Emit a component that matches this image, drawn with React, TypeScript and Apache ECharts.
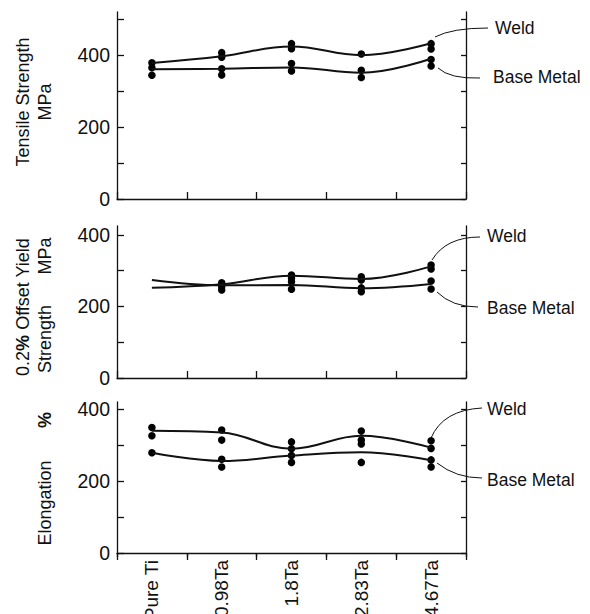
import React, { useEffect, useRef } from "react";
import * as echarts from "echarts";

const categories = ["Pure Ti", "0.98Ta", "1.8Ta", "2.83Ta", "4.67Ta"];

const tensileWeld = [378, 397, 424, 400, 433];
const tensileBase = [361, 362, 366, 351, 390];
const tensileDots = [
  [379, 365, 344],
  [407, 394, 362, 345],
  [432, 418, 377, 356],
  [403, 358, 338],
  [432, 417, 388, 370],
];

const yieldWeld = [252, 262, 286, 277, 312];
const yieldBase = [274, 259, 260, 251, 263];
const yieldDots = [
  [],
  [266, 255, 246],
  [288, 279, 269, 248],
  [283, 274, 252, 241],
  [316, 305, 271, 249],
];

const elongWeld = [340, 335, 290, 326, 293];
const elongBase = [279, 256, 271, 280, 258];
const elongDots = [
  [349, 326, 279],
  [342, 314, 261, 239],
  [309, 290, 271, 252],
  [339, 314, 303, 252],
  [312, 291, 259, 239],
];

const tickValuesTop = [0, 100, 200, 300, 400, 500];
const tickValuesLow = [0, 100, 200, 300, 400];
const labelValues = [0, 200, 400];

const FONT = "'Liberation Sans', Arial, Helvetica, sans-serif";
const INK = "#111";

function dotsToPoints(dots: number[][]) {
  const pts: number[][] = [];
  dots.forEach((list, i) => list.forEach((v) => pts.push([i, v])));
  return pts;
}

export default function App() {
  const ref = useRef<HTMLDivElement>(null);
  useEffect(() => {
    if (!ref.current) return;
    const chart = echarts.init(ref.current, undefined, { renderer: "svg" });

    const grids = [
      { left: 117, width: 349, top: 12, height: 187, max: 520, ticks: tickValuesTop },
      { left: 117, width: 349, top: 226, height: 152, max: 425, ticks: tickValuesLow },
      { left: 117, width: 349, top: 402, height: 151, max: 420, ticks: tickValuesLow },
    ];

    const xAxes: any[] = grids.map((g, i) => ({
      type: "category",
      gridIndex: i,
      data: categories,
      boundaryGap: true,
      axisLine: { show: true, lineStyle: { color: INK, width: 1.3 } },
      axisTick: {
        show: true,
        inside: i !== 2,
        length: 7,
        lineStyle: { color: INK, width: 1.3 },
      },
      axisLabel: {
        show: i === 2,
        interval: 0,
        rotate: 90,
        margin: 7,
        fontSize: 19,
        fontFamily: FONT,
        color: INK,
      },
      splitLine: { show: false },
    }));
    // extra inward ticks on the bottom panel
    xAxes.push({
      type: "category",
      gridIndex: 2,
      data: categories,
      boundaryGap: true,
      axisLine: { show: false },
      axisTick: { show: true, inside: true, length: 4, lineStyle: { color: INK, width: 1.3 } },
      axisLabel: { show: false },
      splitLine: { show: false },
    });

    const yAxes: any[] = [];
    grids.forEach((g, i) => {
      yAxes.push({
        type: "value",
        gridIndex: i,
        position: "left",
        min: 0,
        max: g.max,
        axisLine: { show: true, lineStyle: { color: INK, width: 1.3 } },
        axisTick: {
          show: true,
          inside: true,
          length: 7,
          customValues: g.ticks,
          lineStyle: { color: INK, width: 1.3 },
        },
        axisLabel: {
          show: true,
          customValues: labelValues,
          margin: 7,
          fontSize: 19.5,
          fontFamily: FONT,
          color: INK,
        },
        splitLine: { show: false },
      });
      yAxes.push({
        type: "value",
        gridIndex: i,
        position: "right",
        min: 0,
        max: g.max,
        axisLine: { show: true, lineStyle: { color: INK, width: 1.3 } },
        axisTick: {
          show: true,
          inside: true,
          length: 5,
          customValues: g.ticks,
          lineStyle: { color: INK, width: 1.3 },
        },
        axisLabel: { show: false },
        splitLine: { show: false },
      });
    });

    const panels = [
      { weld: tensileWeld, base: tensileBase, dots: tensileDots },
      { weld: yieldWeld, base: yieldBase, dots: yieldDots },
      { weld: elongWeld, base: elongBase, dots: elongDots },
    ];

    const series: any[] = [];
    panels.forEach((p, i) => {
      const common = {
        xAxisIndex: i,
        yAxisIndex: i * 2,
      };
      series.push({
        ...common,
        name: "Weld",
        type: "line",
        data: p.weld,
        smooth: 0.4,
        showSymbol: false,
        symbol: "none",
        lineStyle: { color: INK, width: 2 },
      });
      series.push({
        ...common,
        name: "Base Metal",
        type: "line",
        data: p.base,
        smooth: 0.4,
        showSymbol: false,
        symbol: "none",
        lineStyle: { color: INK, width: 2 },
      });
      series.push({
        ...common,
        type: "scatter",
        data: dotsToPoints(p.dots),
        symbol: "circle",
        symbolSize: 7.5,
        itemStyle: { color: "#000", opacity: 1 },
      });
    });

    const txt = (text: string, x: number, y: number, opts: any = {}) => ({
      type: "text",
      x,
      y,
      rotation: opts.rotate ? Math.PI / 2 : 0,
      style: {
        text,
        fontSize: opts.size || 18,
        fontFamily: FONT,
        fill: INK,
        align: opts.align || "center",
        verticalAlign: "middle",
        rich: {
          b: { fontWeight: "bold", fontSize: 18, fontFamily: FONT, fill: INK },
        },
      },
    });

    const curve = (x1: number, y1: number, cx: number, cy: number, x2: number, y2: number) => ({
      type: "bezierCurve",
      shape: { x1, y1, x2, y2, cpx1: cx, cpy1: cy },
      style: { stroke: INK, lineWidth: 1, fill: "none" },
    });

    const ann = { align: "left", size: 17.5 };

    const graphic = [
      // y-axis names
      txt("Tensile Strength", 23, 102, { rotate: true }),
      txt("MPa", 45, 102, { rotate: true }),
      txt("0.2{b|%} Offset Yield", 23, 307, { rotate: true }),
      txt("MPa", 45, 256, { rotate: true }),
      txt("Strength", 45, 339, { rotate: true }),
      txt("{b|%}", 45, 420, { rotate: true }),
      txt("Elongation", 45, 503, { rotate: true }),
      // annotations
      txt("Weld", 495, 28, ann),
      txt("Base Metal", 493, 77, ann),
      txt("Weld", 487, 236, ann),
      txt("Base Metal", 487, 308, ann),
      txt("Weld", 487, 409, ann),
      txt("Base Metal", 487, 480, ann),
      curve(435, 37, 452, 28, 488, 28),
      curve(438, 68, 450, 79, 480, 78),
      curve(432, 260, 446, 237, 480, 237),
      curve(437, 292, 452, 307, 478, 307),
      curve(431, 438, 443, 410, 482, 408),
      curve(437, 463, 456, 478, 482, 478),
    ];

    chart.setOption({
      animation: false,
      backgroundColor: "#fff",
      grid: grids.map((g) => ({
        left: g.left,
        width: g.width,
        top: g.top,
        height: g.height,
        containLabel: false,
        outerBoundsMode: "none",
      })),
      xAxis: xAxes,
      yAxis: yAxes,
      series,
      graphic,
    });

    return () => chart.dispose();
  }, []);

  return (
    <div
      ref={ref}
      style={{ position: "fixed", left: 0, top: 0, width: 590, height: 614, background: "#fff" }}
    />
  );
}
